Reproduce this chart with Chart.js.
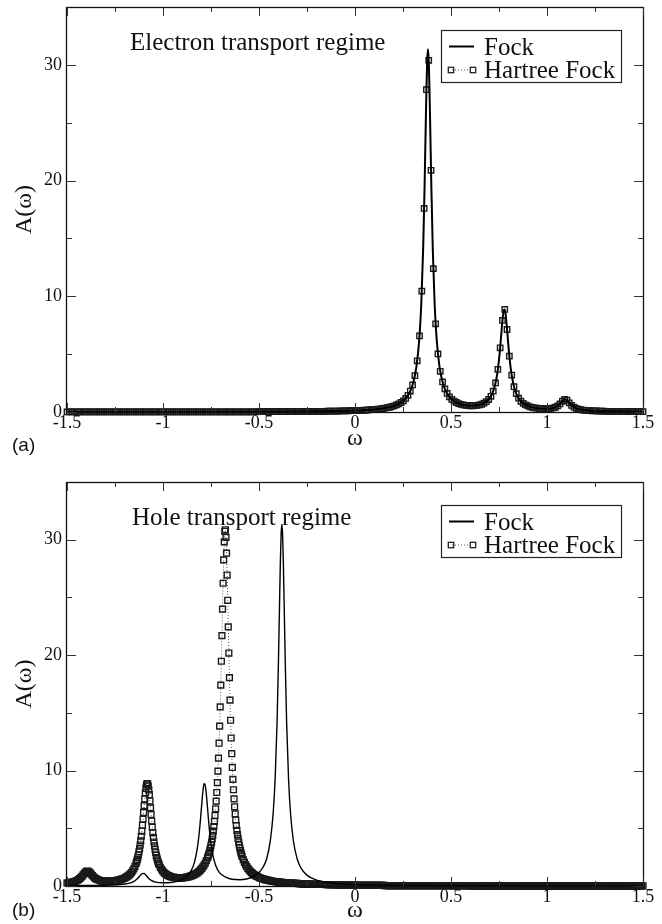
<!DOCTYPE html>
<html><head><meta charset="utf-8">
<script src="https://cdn.jsdelivr.net/npm/chart.js@4.4.1/dist/chart.umd.min.js"></script>
<style>
html,body{margin:0;padding:0;background:#fff;}
#wrap{position:relative;width:662px;height:924px;background:#fff;}
.panel{position:absolute;left:0;width:662px;height:462px;}
</style></head><body>
<div id="wrap">
<div class="panel" style="top:0"><canvas id="cA" width="662" height="462"></canvas></div>
<div class="panel" style="top:462px"><canvas id="cB" width="662" height="462"></canvas></div>
</div>
<script>
// ---------- tick values / labels ----------
const xMajorTicks = [-1.5,-1,-0.5,0,0.5,1,1.5];
const xMinorTicks = [-1.25,-0.75,-0.25,0.25,0.75,1.25];
const yMajorTicks = [0,10,20,30];
const yMinorTicks = [5,15,25];
const xTickLabels = ['-1.5','-1','-0.5','0','0.5','1','1.5'];
const yTickLabels = ['0','10','20','30'];
const legendLabels = ['Fock','Hartree Fock'];
const panelTitles = ['Electron transport regime','Hole transport regime'];
const panelTags = ['(a)','(b)'];
const xAxisTitle = 'ω';
const yAxisTitle = 'A(ω)';

// ---------- panel (a): Fock ----------
const fockOmegaA = [-1.5,-1,-0.5,-0.3,-0.1,0,0.1,0.15,0.2,0.25,
0.28,0.3,0.32,0.335,0.345,0.355,0.362,0.368,0.372,0.376,
0.38,0.384,0.388,0.392,0.398,0.405,0.415,0.425,0.44,0.46,
0.48,0.5,0.53,0.56,0.6,0.64,0.67,0.7,0.72,0.735,
0.745,0.755,0.763,0.77,0.775,0.78,0.785,0.79,0.797,0.805,
0.815,0.83,0.85,0.88,0.92,0.96,1,1.03,1.05,1.065,
1.08,1.09,1.1,1.11,1.125,1.14,1.16,1.19,1.23,1.3,
1.4,1.5];
const fockA = [0.01,0.01,0.03,0.04,0.08,0.12,0.22,0.32,0.51,0.94,
1.55,2.34,3.92,6.34,9.24,14.11,19.19,24.46,27.85,30.39,
31.34,30.39,27.85,24.46,19.2,14.11,9.25,6.35,3.93,2.36,
1.6,1.16,0.81,0.63,0.54,0.58,0.74,1.16,1.8,2.74,
3.8,5.36,6.95,8.24,8.8,8.86,8.38,7.53,6.12,4.66,
3.3,2.07,1.24,0.7,0.42,0.3,0.28,0.33,0.46,0.65,
0.93,1.08,1.07,0.91,0.62,0.42,0.27,0.17,0.11,0.07,
0.05,0.03];

// ---------- panel (a): Hartree Fock ----------
const omegaA = [-1.5,-1.488,-1.476,-1.464,-1.452,-1.44,-1.428,-1.416,-1.404,-1.392,
-1.38,-1.368,-1.356,-1.344,-1.332,-1.32,-1.308,-1.296,-1.284,-1.272,
-1.26,-1.248,-1.236,-1.224,-1.212,-1.2,-1.188,-1.176,-1.164,-1.152,
-1.14,-1.128,-1.116,-1.104,-1.092,-1.08,-1.068,-1.056,-1.044,-1.032,
-1.02,-1.008,-0.996,-0.984,-0.972,-0.96,-0.948,-0.936,-0.924,-0.912,
-0.9,-0.888,-0.876,-0.864,-0.852,-0.84,-0.828,-0.816,-0.804,-0.792,
-0.78,-0.768,-0.756,-0.744,-0.732,-0.72,-0.708,-0.696,-0.684,-0.672,
-0.66,-0.648,-0.636,-0.624,-0.612,-0.6,-0.588,-0.576,-0.564,-0.552,
-0.54,-0.528,-0.516,-0.504,-0.492,-0.48,-0.468,-0.456,-0.444,-0.432,
-0.42,-0.408,-0.396,-0.384,-0.372,-0.36,-0.348,-0.336,-0.324,-0.312,
-0.3,-0.288,-0.276,-0.264,-0.252,-0.24,-0.228,-0.216,-0.204,-0.192,
-0.18,-0.168,-0.156,-0.144,-0.132,-0.12,-0.108,-0.096,-0.084,-0.072,
-0.06,-0.048,-0.036,-0.024,-0.012,0,0.012,0.024,0.036,0.048,
0.06,0.072,0.084,0.096,0.108,0.12,0.132,0.144,0.156,0.168,
0.18,0.192,0.204,0.216,0.228,0.24,0.252,0.264,0.276,0.288,
0.3,0.312,0.324,0.336,0.348,0.36,0.372,0.384,0.396,0.408,
0.42,0.432,0.444,0.456,0.468,0.48,0.492,0.504,0.516,0.528,
0.54,0.552,0.564,0.576,0.588,0.6,0.612,0.624,0.636,0.648,
0.66,0.672,0.684,0.696,0.708,0.72,0.732,0.744,0.756,0.768,
0.78,0.792,0.804,0.816,0.828,0.84,0.852,0.864,0.876,0.888,
0.9,0.912,0.924,0.936,0.948,0.96,0.972,0.984,0.996,1.008,
1.02,1.032,1.044,1.056,1.068,1.08,1.092,1.104,1.116,1.128,
1.14,1.152,1.164,1.176,1.188,1.2,1.212,1.224,1.236,1.248,
1.26,1.272,1.284,1.296,1.308,1.32,1.332,1.344,1.356,1.368,
1.38,1.392,1.404,1.416,1.428,1.44,1.452,1.464,1.476,1.488,
1.5];
const hartreeFockA = [0.01,0.01,0.01,0.01,0.01,0.01,0.01,0.01,0.01,0.01,
0.01,0.01,0.01,0.01,0.01,0.01,0.01,0.01,0.01,0.01,
0.01,0.01,0.01,0.01,0.01,0.01,0.01,0.01,0.01,0.01,
0.01,0.01,0.01,0.01,0.01,0.01,0.01,0.01,0.01,0.01,
0.01,0.01,0.01,0.01,0.01,0.01,0.01,0.01,0.01,0.01,
0.01,0.01,0.01,0.01,0.01,0.01,0.01,0.01,0.01,0.01,
0.02,0.02,0.02,0.02,0.02,0.02,0.02,0.02,0.02,0.02,
0.02,0.02,0.02,0.02,0.02,0.02,0.02,0.02,0.02,0.02,
0.02,0.02,0.02,0.03,0.03,0.03,0.03,0.03,0.03,0.03,
0.03,0.03,0.03,0.03,0.03,0.04,0.04,0.04,0.04,0.04,
0.04,0.04,0.05,0.05,0.05,0.05,0.05,0.05,0.05,0.06,
0.06,0.06,0.06,0.07,0.07,0.07,0.08,0.08,0.08,0.09,
0.09,0.10,0.10,0.11,0.11,0.12,0.13,0.14,0.15,0.16,
0.17,0.18,0.20,0.21,0.23,0.25,0.27,0.30,0.33,0.37,
0.41,0.47,0.53,0.61,0.70,0.82,0.97,1.17,1.44,1.81,
2.34,3.14,4.42,6.57,10.45,17.59,27.85,30.39,20.89,12.39,
7.62,5.02,3.52,2.60,1.99,1.60,1.31,1.10,0.94,0.82,
0.73,0.66,0.61,0.58,0.55,0.54,0.54,0.55,0.57,0.61,
0.67,0.76,0.89,1.08,1.36,1.80,2.51,3.68,5.55,7.91,
8.86,7.13,4.82,3.19,2.19,1.58,1.19,0.93,0.75,0.62,
0.52,0.45,0.40,0.36,0.33,0.30,0.29,0.28,0.28,0.29,
0.31,0.35,0.41,0.53,0.70,0.93,1.09,1.02,0.79,0.57,
0.42,0.32,0.25,0.20,0.17,0.15,0.13,0.12,0.10,0.09,
0.09,0.08,0.07,0.07,0.06,0.06,0.06,0.06,0.05,0.05,
0.05,0.05,0.05,0.04,0.04,0.04,0.04,0.04,0.04,0.04,
0.03];

// ---------- panel (b): Fock ----------
const fockOmegaB = [-1.5,-1.4,-1.3,-1.239,-1.199,-1.169,-1.149,-1.134,-1.119,-1.109,
-1.099,-1.089,-1.074,-1.059,-1.039,-1,-0.96,-0.92,-0.886,-0.856,
-0.836,-0.821,-0.811,-0.803,-0.796,-0.791,-0.786,-0.781,-0.776,-0.769,
-0.761,-0.751,-0.741,-0.726,-0.706,-0.67,-0.64,-0.6,-0.56,-0.53,
-0.5,-0.48,-0.46,-0.441,-0.426,-0.416,-0.406,-0.399,-0.393,-0.389,
-0.385,-0.381,-0.377,-0.373,-0.369,-0.363,-0.356,-0.346,-0.336,-0.321,
-0.301,-0.281,-0.251,-0.2,-0.15,-0.1,0,0.1,0.3,0.5,
1,1.5];
const fockB = [0.03,0.05,0.07,0.11,0.17,0.27,0.42,0.62,0.91,1.07,
1.08,0.93,0.65,0.46,0.33,0.28,0.3,0.42,0.7,1.24,
2.07,3.3,4.66,6.12,7.53,8.38,8.86,8.8,8.24,6.95,
5.36,3.8,2.74,1.8,1.16,0.74,0.58,0.54,0.63,0.81,
1.16,1.6,2.36,3.93,6.35,9.25,14.11,19.2,24.46,27.85,
30.39,31.34,30.39,27.85,24.46,19.19,14.11,9.24,6.34,3.92,
2.34,1.55,0.94,0.51,0.32,0.22,0.12,0.08,0.04,0.03,
0.01,0.01];

// ---------- panel (b): Hartree Fock ----------
const omegaB = [
-1.5,-1.494,-1.488,-1.482,-1.476,-1.47,-1.464,-1.458,-1.452,-1.446,
-1.44,-1.434,-1.428,-1.422,-1.416,-1.41,-1.404,-1.398,-1.392,-1.386,
-1.38,-1.374,-1.368,-1.362,-1.356,-1.35,-1.344,-1.338,-1.332,-1.326,
-1.32,-1.314,-1.308,-1.302,-1.296,-1.29,-1.284,-1.278,-1.272,-1.266,
-1.26,-1.254,-1.248,-1.242,-1.236,-1.23,-1.224,-1.218,-1.212,-1.206,
-1.2,-1.194,-1.188,-1.182,-1.176,-1.17,-1.164,-1.158,-1.152,-1.146,
-1.14,
-1.137,-1.134,-1.131,-1.128,-1.125,-1.122,-1.119,-1.116,-1.113,-1.11,
-1.107,-1.104,-1.101,-1.098,-1.095,-1.092,-1.089,-1.086,-1.083,-1.08,
-1.077,-1.074,-1.071,-1.068,-1.065,-1.062,-1.059,-1.056,-1.053,-1.05,
-1.047,-1.044,-1.041,-1.038,-1.035,-1.032,-1.029,-1.026,-1.023,
-1.02,-1.014,-1.008,-1.002,-0.996,-0.99,-0.984,-0.978,-0.972,-0.966,
-0.96,-0.954,-0.948,-0.942,-0.936,-0.93,-0.924,-0.918,-0.912,-0.906,
-0.9,-0.894,-0.888,-0.882,-0.876,-0.87,-0.864,-0.858,-0.852,-0.846,
-0.84,-0.834,-0.828,-0.822,-0.816,-0.81,-0.804,-0.798,-0.792,-0.786,
-0.78,-0.774,-0.768,
-0.765,-0.762,-0.759,-0.756,-0.753,-0.75,-0.747,-0.744,-0.741,-0.738,
-0.735,-0.732,-0.729,-0.726,-0.723,-0.72,-0.717,-0.714,-0.711,-0.708,
-0.705,-0.702,-0.699,-0.696,-0.693,-0.69,-0.687,-0.684,-0.681,-0.678,
-0.675,-0.672,-0.669,-0.666,-0.663,-0.66,-0.657,-0.654,-0.651,-0.648,
-0.645,-0.642,-0.639,-0.636,-0.633,-0.63,-0.627,-0.624,-0.621,-0.618,
-0.615,-0.612,-0.609,-0.606,-0.603,-0.6,-0.597,-0.594,-0.591,-0.588,
-0.582,-0.576,-0.57,-0.564,-0.558,-0.552,-0.546,-0.54,-0.534,-0.528,
-0.522,-0.516,-0.51,-0.504,-0.498,-0.492,-0.486,-0.48,-0.474,-0.468,
-0.462,-0.456,-0.45,-0.444,-0.438,-0.432,-0.426,-0.42,-0.414,-0.408,
-0.402,-0.396,-0.39,-0.384,-0.378,-0.372,-0.366,-0.36,-0.354,-0.348,
-0.342,-0.336,-0.33,-0.324,-0.318,-0.312,-0.306,-0.3,-0.294,-0.288,
-0.282,-0.276,-0.27,-0.264,-0.258,-0.252,-0.246,-0.24,-0.234,-0.228,
-0.222,-0.216,-0.21,-0.204,-0.198,-0.192,-0.186,-0.18,-0.174,-0.168,
-0.162,-0.156,-0.15,-0.144,-0.138,-0.132,-0.126,-0.12,-0.114,-0.108,
-0.102,-0.096,-0.09,-0.084,-0.078,-0.072,-0.066,-0.06,-0.054,-0.048,
-0.042,-0.036,-0.03,-0.024,-0.018,-0.012,-0.006,0,0.006,0.012,
0.018,0.024,0.03,0.036,0.042,0.048,0.054,0.06,0.066,0.072,
0.078,0.084,0.09,0.096,0.102,0.108,0.114,0.12,0.126,0.132,
0.138,0.144,0.15,0.156,0.162,0.168,0.174,0.18,0.186,0.192,
0.198,0.204,0.21,0.216,0.222,0.228,0.234,0.24,0.246,0.252,
0.258,0.264,0.27,0.276,0.282,0.288,0.294,0.3,
0.306,0.312,0.318,0.324,0.33,0.336,0.342,0.348,0.354,0.36,
0.366,0.372,0.378,0.384,0.39,0.396,0.402,0.408,0.414,0.42,
0.426,0.432,0.438,0.444,0.45,0.456,0.462,0.468,0.474,0.48,
0.486,0.492,0.498,0.504,0.51,0.516,0.522,0.528,0.534,0.54,
0.546,0.552,0.558,0.564,0.57,0.576,0.582,0.588,0.594,0.6,
0.606,0.612,0.618,0.624,0.63,0.636,0.642,0.648,0.654,0.66,
0.666,0.672,0.678,0.684,0.69,0.696,0.702,0.708,0.714,0.72,
0.726,0.732,0.738,0.744,0.75,0.756,0.762,0.768,0.774,0.78,
0.786,0.792,0.798,0.804,0.81,0.816,0.822,0.828,0.834,0.84,
0.846,0.852,0.858,0.864,0.87,0.876,0.882,0.888,0.894,0.9,
0.906,0.912,0.918,0.924,0.93,0.936,0.942,0.948,0.954,0.96,
0.966,0.972,0.978,0.984,0.99,0.996,1.002,1.008,1.014,1.02,
1.026,1.032,1.038,1.044,1.05,1.056,1.062,1.068,1.074,1.08,
1.086,1.092,1.098,1.104,1.11,1.116,1.122,1.128,1.134,1.14,
1.146,1.152,1.158,1.164,1.17,1.176,1.182,1.188,1.194,1.2,
1.206,1.212,1.218,1.224,1.23,1.236,1.242,1.248,1.254,1.26,
1.266,1.272,1.278,1.284,1.29,1.296,1.302,1.308,1.314,1.32,
1.326,1.332,1.338,1.344,1.35,1.356,1.362,1.368,1.374,1.38,
1.386,1.392,1.398,1.404,1.41,1.416,1.422,1.428,1.434,1.44,
1.446,1.452,1.458,1.464,1.47,1.476,1.482,1.488,1.494,1.5];
const hartreeFockB = [
0.26,0.27,0.28,0.30,0.32,0.35,0.37,0.41,0.45,0.50,
0.56,0.64,0.73,0.84,0.96,1.09,1.20,1.28,1.29,1.24,
1.15,1.03,0.91,0.80,0.71,0.64,0.58,0.54,0.50,0.47,
0.45,0.44,0.43,0.42,0.41,0.41,0.41,0.42,0.42,0.43,
0.44,0.45,0.46,0.48,0.50,0.52,0.55,0.58,0.61,0.65,
0.69,0.75,0.81,0.88,0.96,1.06,1.17,1.32,1.49,1.70,
1.96,
2.11,2.29,2.48,2.70,2.95,3.23,3.55,3.91,4.31,4.76,
5.26,5.79,6.37,6.96,7.54,8.08,8.45,8.75,8.88,8.86,
8.66,8.32,7.91,7.36,6.77,6.19,5.63,5.10,4.63,4.20,
3.81,3.47,3.17,2.90,2.66,2.45,2.27,2.10,1.96,
1.84,1.62,1.45,1.31,1.19,1.09,1.01,0.95,0.90,0.85,
0.81,0.78,0.76,0.74,0.73,0.71,0.71,0.71,0.70,0.71,
0.71,0.72,0.73,0.75,0.77,0.79,0.82,0.85,0.88,0.92,
0.97,1.02,1.08,1.14,1.22,1.30,1.40,1.52,1.65,1.80,
1.98,2.19,2.44,
2.57,2.73,2.90,3.09,3.30,3.53,3.79,4.07,4.39,4.75,
5.15,5.60,6.11,6.69,7.35,8.10,8.96,9.95,11.08,12.37,
13.85,15.52,17.40,19.47,21.69,23.99,26.23,28.25,29.81,30.73,
30.86,30.20,28.83,26.94,24.75,22.45,20.18,18.05,16.10,14.36,
12.82,11.46,10.27,9.24,8.34,7.55,6.86,6.25,5.72,5.24,
4.82,4.45,4.12,3.82,3.55,3.31,3.09,2.89,2.71,2.55,
2.29,2.05,1.85,1.67,1.52,1.39,1.28,1.18,1.09,1.01,
0.94,0.88,0.83,0.78,0.73,0.69,0.65,0.62,0.59,0.56,
0.53,0.51,0.49,0.47,0.45,0.43,0.41,0.39,0.38,0.36,
0.35,0.34,0.33,0.32,0.31,0.30,0.29,0.28,0.27,0.27,
0.26,0.25,0.25,0.24,0.24,0.23,0.23,0.22,0.21,0.20,
0.19,0.18,0.18,0.17,0.17,0.17,0.16,0.16,0.16,0.15,
0.15,0.15,0.15,0.14,0.14,0.14,0.14,0.13,0.13,0.13,
0.13,0.13,0.12,0.12,0.12,0.12,0.12,0.11,0.11,0.11,
0.10,0.10,0.09,0.09,0.09,0.08,0.08,0.08,0.08,0.08,
0.08,0.08,0.07,0.07,0.07,0.07,0.07,0.07,0.07,0.06,
0.06,0.06,0.06,0.06,0.06,0.06,0.06,0.06,0.05,0.05,
0.05,0.05,0.05,0.05,0.05,0.05,0.05,0.05,0.05,0.05,
0.05,0.05,0.05,0.04,0.04,0.04,0.04,0.04,0.04,0.04,
0.04,0.04,0.04,0.04,0.04,0.04,0.03,0.03,0.03,0.03,
0.03,0.03,0.03,0.03,0.03,0.03,0.03,0.03,
0.02,0.02,0.02,0.02,0.02,0.02,0.02,0.02,0.02,0.02,
0.02,0.02,0.02,0.02,0.02,0.02,0.02,0.02,0.02,0.02,
0.02,0.02,0.02,0.02,0.02,0.02,0.02,0.02,0.02,0.02,
0.02,0.02,0.02,0.02,0.02,0.02,0.02,0.02,0.02,0.02,
0.02,0.02,0.02,0.02,0.02,0.02,0.02,0.02,0.02,0.01,
0.01,0.01,0.01,0.01,0.01,0.01,0.01,0.01,0.01,0.01,
0.01,0.01,0.01,0.01,0.01,0.01,0.01,0.01,0.01,0.01,
0.01,0.01,0.01,0.01,0.01,0.01,0.01,0.01,0.01,0.01,
0.01,0.01,0.01,0.01,0.01,0.01,0.01,0.01,0.01,0.01,
0.01,0.01,0.01,0.01,0.01,0.01,0.01,0.01,0.01,0.01,
0.01,0.01,0.01,0.01,0.01,0.01,0.01,0.01,0.01,0.01,
0.01,0.01,0.01,0.01,0.01,0.01,0.01,0.01,0.01,0.01,
0.01,0.01,0.01,0.01,0.01,0.01,0.01,0.01,0.01,0.01,
0.01,0.01,0.01,0.01,0.01,0.01,0.01,0.01,0.01,0.01,
0.01,0.01,0.01,0.01,0.01,0.01,0.01,0.01,0.01,0.01,
0.01,0.01,0.01,0.01,0.01,0.01,0.01,0.01,0.01,0.01,
0.01,0.01,0.01,0.01,0.01,0.01,0.01,0.01,0.01,0.01,
0.01,0.01,0.01,0.01,0.01,0.01,0.01,0.01,0.01,0.01,
0.01,0.01,0.01,0.01,0.01,0.01,0.01,0.01,0.01,0.01,
0.01,0.01,0.01,0.01,0.01,0.01,0.01,0.01,0.01,0.01];

// ---------- rendering ----------
const SERIF = '"Liberation Serif", "Times New Roman", serif';
const SANS = '"Liberation Sans", Arial, sans-serif';
Chart.defaults.font.family = SERIF;

function zip(xs, ys) {
  const n = Math.min(xs.length, ys.length);
  const out = [];
  for (let i = 0; i < n; i++) out.push({x: xs[i], y: ys[i]});
  return out;
}

const panelDecor = {
  id: 'panelDecor',
  afterDatasetsDraw(chart, args, o) {
    const ctx = chart.ctx, a = chart.chartArea;
    const xs = chart.scales.x, ys = chart.scales.y;
    ctx.save();
    ctx.setLineDash([]);
    // frame
    ctx.strokeStyle = '#111';
    ctx.lineWidth = 1.3;
    ctx.strokeRect(a.left - 0.5, a.top + 0.5, a.right - a.left + 1, a.bottom - a.top);
    // inward ticks on all four sides
    ctx.strokeStyle = '#333';
    ctx.lineWidth = 1;
    ctx.beginPath();
    const tx = (v, len) => {
      const p = Math.round(xs.getPixelForValue(v)) + 0.5;
      ctx.moveTo(p, a.bottom); ctx.lineTo(p, a.bottom - len);
      ctx.moveTo(p, a.top); ctx.lineTo(p, a.top + len);
    };
    const ty = (v, len) => {
      const p = Math.round(ys.getPixelForValue(v)) + 0.5;
      ctx.moveTo(a.left, p); ctx.lineTo(a.left + len, p);
      ctx.moveTo(a.right, p); ctx.lineTo(a.right - len, p);
    };
    xMajorTicks.forEach(v => tx(v, 9));
    xMinorTicks.forEach(v => tx(v, 5));
    yMajorTicks.forEach(v => ty(v, 9));
    yMinorTicks.forEach(v => ty(v, 5));
    ctx.stroke();

    // in-plot title
    ctx.fillStyle = '#111';
    ctx.textAlign = 'left';
    ctx.textBaseline = 'alphabetic';
    ctx.font = '25px ' + SERIF;
    ctx.fillText(o.title, o.titleX, a.top + 42.5);

    // legend box
    const lx = 441.5, ly = a.top + 23.5;
    ctx.strokeStyle = '#222';
    ctx.lineWidth = 1.2;
    ctx.strokeRect(lx, ly, 180, 52);
    // Fock sample
    ctx.beginPath();
    ctx.strokeStyle = '#000';
    ctx.lineWidth = 2;
    ctx.moveTo(449, a.top + 39.5); ctx.lineTo(474, a.top + 39.5);
    ctx.stroke();
    // Hartree Fock sample
    const sy = a.top + 63;
    ctx.beginPath();
    ctx.strokeStyle = '#555';
    ctx.lineWidth = 1;
    ctx.setLineDash([1, 2]);
    ctx.moveTo(452, sy); ctx.lineTo(472, sy);
    ctx.stroke();
    ctx.setLineDash([]);
    ctx.strokeStyle = '#222';
    ctx.lineWidth = 1.3;
    [451, 473].forEach(cx => ctx.strokeRect(cx - 2.7, sy - 2.7, 5.4, 5.4));
    ctx.fillStyle = '#111';
    ctx.font = '25px ' + SERIF;
    ctx.fillText(legendLabels[0], 484, a.top + 48);
    ctx.fillText(legendLabels[1], 484, a.top + 71);

    // axis titles
    ctx.font = '24px ' + SERIF;
    ctx.textAlign = 'center';
    ctx.fillText(xAxisTitle, (a.left + a.right) / 2, o.omegaY);
    ctx.save();
    ctx.translate(25, (a.top + a.bottom) / 2);
    ctx.rotate(-Math.PI / 2);
    ctx.textBaseline = 'middle';
    ctx.fillText(yAxisTitle, 0, 0);
    ctx.restore();

    // panel tag
    ctx.font = '19px ' + SANS;
    ctx.textAlign = 'left';
    ctx.textBaseline = 'alphabetic';
    ctx.fillText(o.tag, 12, o.tagY);
    ctx.restore();
  }
};

function makeChart(id, cfg) {
  return new Chart(document.getElementById(id), {
    type: 'line',
    data: {
      datasets: [
        {
          label: legendLabels[0],
          data: zip(cfg.fockX, cfg.fockY),
          borderColor: '#000',
          borderWidth: cfg.fockWidth,
          pointRadius: 0,
          fill: false,
          cubicInterpolationMode: 'monotone',
          order: 0
        },
        {
          label: legendLabels[1],
          data: zip(cfg.hfX, cfg.hfY),
          borderColor: '#555',
          borderWidth: 1,
          borderDash: [1, 2],
          tension: 0,
          pointStyle: 'rect',
          pointRadius: cfg.markerRadius,
          pointBorderColor: '#1a1a1a',
          pointBorderWidth: 1.4,
          pointBackgroundColor: 'rgba(0,0,0,0)',
          fill: false,
          clip: false,
          order: 1
        }
      ]
    },
    options: {
      responsive: false,
      animation: false,
      devicePixelRatio: 1,
      events: [],
      layout: { padding: { left: 0, right: 19, top: cfg.padTop, bottom: 0 } },
      plugins: {
        legend: { display: false },
        tooltip: { enabled: false },
        panelDecor: cfg.decor
      },
      scales: {
        x: {
          type: 'linear',
          min: -1.5, max: 1.5,
          grid: { display: false, drawTicks: false },
          border: { display: false },
          afterBuildTicks: s => { s.ticks = xMajorTicks.map(v => ({ value: v })); },
          afterFit: s => { s.height = cfg.xAxisHeight; s.paddingLeft = 0; s.paddingRight = 0; },
          ticks: {
            autoSkip: false, maxRotation: 0, padding: 2, color: '#111',
            font: { size: 18, family: SERIF, lineHeight: 1 },
            callback: (v, i) => xTickLabels[i]
          }
        },
        y: {
          type: 'linear',
          min: 0, max: 35,
          grid: { display: false, drawTicks: false },
          border: { display: false },
          afterBuildTicks: s => { s.ticks = yMajorTicks.map(v => ({ value: v })); },
          afterFit: s => { s.width = 67; s.paddingTop = 0; s.paddingBottom = 0; },
          ticks: {
            autoSkip: false, padding: 5, color: '#111',
            font: { size: 18, family: SERIF, lineHeight: 1 },
            callback: (v, i) => yTickLabels[i]
          }
        }
      }
    },
    plugins: [panelDecor]
  });
}

makeChart('cA', {
  fockX: fockOmegaA, fockY: fockA, hfX: omegaA, hfY: hartreeFockA,
  fockWidth: 2, padTop: 7, xAxisHeight: 50, markerRadius: 3.8,
  decor: { title: panelTitles[0], titleX: 130, tag: panelTags[0], tagY: 451, omegaY: 445 }
});
makeChart('cB', {
  fockX: fockOmegaB, fockY: fockB, hfX: omegaB, hfY: hartreeFockB,
  fockWidth: 1.4, padTop: 20, xAxisHeight: 38, markerRadius: 4.1,
  decor: { title: panelTitles[1], titleX: 132, tag: panelTags[1], tagY: 454, omegaY: 455 }
});
</script>
</body></html>
